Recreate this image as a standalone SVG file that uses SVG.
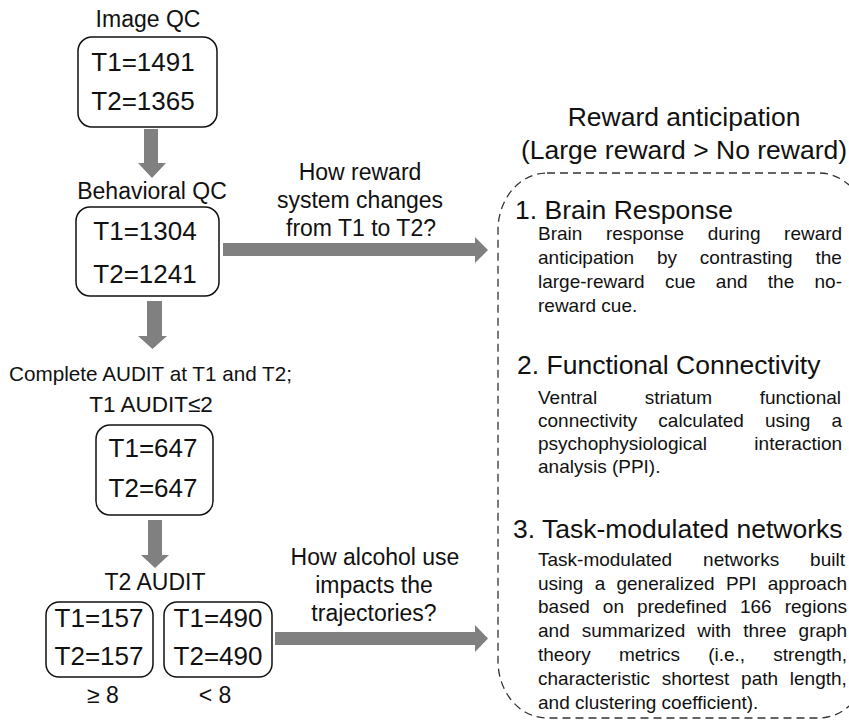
<svg xmlns="http://www.w3.org/2000/svg" width="849" height="723" viewBox="0 0 849 723">
<style>
text{font-family:"Liberation Sans",Arial,sans-serif;fill:#111}
.t{font-size:23px;text-anchor:middle}
.n{font-size:26px;text-anchor:middle}
.box{fill:#fff;stroke:#111;stroke-width:1.5}
.arr{fill:#808080}
.h{font-size:26.5px}
.b{font-size:19px}
.dash{fill:none;stroke:#333;stroke-width:1.3;stroke-dasharray:8 5}
</style>
<rect width="849" height="723" fill="#fff"/>
<g id="connectors">
<path class="arr" d="M144,129H158V163H166L152,178L138,163H144Z"/>
<path class="arr" d="M147,301H162V336H167L152.5,349L138,336H147Z"/>
<path class="arr" d="M148,520H162V555H169L155,568L141,555H148Z"/>
<path class="arr" d="M223,243H475V237L488,250L475,263V256H223Z"/>
<path class="arr" d="M275,632H475V625L488,638.5L475,652V645H275Z"/>
</g>
<g id="image-qc">
<text class="t" x="148" y="27">Image QC</text>
<rect class="box" x="78" y="37" width="139" height="90" rx="14"/>
<text class="n" x="143" y="71">T1=1491</text>
<text class="n" x="143" y="110">T2=1365</text>
</g>
<g id="behavioral-qc">
<text class="t" x="152" y="199">Behavioral QC</text>
<rect class="box" x="76" y="207" width="143" height="89" rx="14"/>
<text class="n" x="145" y="240">T1=1304</text>
<text class="n" x="145" y="283">T2=1241</text>
</g>
<g id="audit-complete">
<text class="t" x="150.5" y="381" style="font-size:20.7px">Complete AUDIT at T1 and T2;</text>
<text class="t" x="151" y="412" style="font-size:22.5px">T1 AUDIT≤2</text>
<rect class="box" x="96" y="425" width="117" height="90" rx="14"/>
<text class="n" x="153" y="457">T1=647</text>
<text class="n" x="153" y="497">T2=647</text>
</g>
<g id="t2-audit">
<text class="t" x="155" y="590">T2 AUDIT</text>
</g>
<g id="audit-high">
<rect class="box" x="46" y="602" width="107" height="75" rx="13"/>
<text class="n" x="99" y="627">T1=157</text>
<text class="n" x="99" y="665">T2=157</text>
<text class="t" x="103" y="703">≥ 8</text>
</g>
<g id="audit-low">
<rect class="box" x="164" y="602" width="108" height="75" rx="13"/>
<text class="n" x="218" y="627">T1=490</text>
<text class="n" x="218" y="665">T2=490</text>
<text class="t" x="215" y="703">&lt; 8</text>
</g>
<g id="question-reward">
<text class="t" x="360" y="180">How reward</text>
<text class="t" x="360" y="208">system changes</text>
<text class="t" x="361" y="236">from T1 to T2?</text>
</g>
<g id="question-alcohol">
<text class="t" x="375" y="565">How alcohol use</text>
<text class="t" x="374" y="593">impacts the</text>
<text class="t" x="374" y="621">trajectories?</text>
</g>
<g id="reward-panel">
<text class="h" x="684" y="126" text-anchor="middle">Reward anticipation</text>
<text class="h" x="684" y="159" text-anchor="middle">(Large reward &gt; No reward)</text>
<rect class="dash" x="498" y="173" width="370" height="545" rx="49" ry="57"/>
</g>
<g id="brain-response">
<text class="h" x="515" y="219">1. Brain Response</text>
<text class="b" x="538" y="240" word-spacing="18.3">Brain response during reward</text>
<text class="b" x="538" y="264" word-spacing="17.5">anticipation by contrasting the</text>
<text class="b" x="538" y="288" word-spacing="15">large-reward cue and the no-</text>
<text class="b" x="538" y="312">reward cue.</text>
</g>
<g id="functional-connectivity">
<text class="h" x="517" y="374">2. Functional Connectivity</text>
<text class="b" x="538" y="404" word-spacing="42.2">Ventral striatum functional</text>
<text class="b" x="538" y="427" word-spacing="15.8">connectivity calculated using a</text>
<text class="b" x="538" y="450" word-spacing="42.1">psychophysiological interaction</text>
<text class="b" x="538" y="473">analysis (PPI).</text>
</g>
<g id="task-networks">
<text class="h" x="513" y="538">3. Task-modulated networks</text>
<text class="b" x="538" y="566" word-spacing="25.7">Task-modulated networks built</text>
<text class="b" x="538" y="590" word-spacing="5.95">using a generalized PPI approach</text>
<text class="b" x="538" y="613" word-spacing="7.8">based on predefined 166 regions</text>
<text class="b" x="538" y="637" word-spacing="6.8">and summarized with three graph</text>
<text class="b" x="538" y="661" word-spacing="22.8">theory metrics (i.e., strength,</text>
<text class="b" x="538" y="685" word-spacing="6.5">characteristic shortest path length,</text>
<text class="b" x="538" y="709">and clustering coefficient).</text>
</g>
</svg>
